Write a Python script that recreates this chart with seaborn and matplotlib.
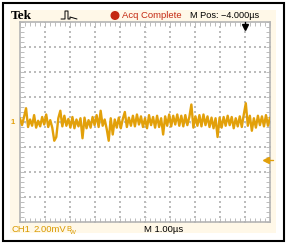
import numpy as np
import matplotlib
matplotlib.use("Agg")
import matplotlib.pyplot as plt
from matplotlib.patches import Rectangle, Circle
import seaborn as sns

sns.set_style("white")
plt.rcParams['font.family'] = ['Liberation Sans', 'DejaVu Sans']

ch1_mv = [0.3, -0.25, 0.4, 1.1, -0.4, 0.2, -0.3, 0.55, -0.45, 0.1,
          -0.35, 0.4, -0.2, 0.6, -0.4, 0.15, -0.45, -1.5, -1.2, 0.3,
          0.9, -0.35, 0.5, -0.3, 0.25, -0.45, 0.4, -0.5, 0.2, -0.35,
          0.3, -1.3, 0.35, -0.5, 0.15, -0.45, 0.4, -0.25, 0.55, -0.4,
          0.9, -0.3, 0.2, -0.55, -1.5, 0.3, -1.0, 0.2, -0.45, 0.35,
          -0.5, 0.25, 0.8, -0.4, 0.35, -0.3, 0.5, -0.35, 0.6, -0.2,
          0.45, -0.4, 0.3, -0.5, 0.55, -0.25, 0.4, -0.45, 0.5, -0.4,
          0.3, -1.0, 0.45, -0.3, 0.6, -0.35, 0.5, -0.2, 0.6, -0.3,
          0.5, -0.35, 0.55, -0.25, 0.4, 1.4, -0.45, 0.45, -0.3, 0.55,
          -0.35, 0.6, -0.25, 0.45, -0.4, 0.35, -0.5, 0.3, -1.2, 0.35,
          -0.45, 0.4, -0.3, 0.5, -0.25, 0.4, -0.5, 0.3, -0.35, 0.45,
          -0.4, 0.6, 1.5, -0.3, 0.5, -0.7, 0.3, -0.45, 0.5, -0.25,
          0.45, -0.35, 0.55, -0.3, 0.35]
tempo_us = np.linspace(0, 10, len(ch1_mv))

volts_div = 2.0      # mV/div
trigger_mv = -3.0    # nivel do trigger
trigger_pos_us = 9.0

laranja = '#E2A00A'
cinza = '#bcbcbc'
creme = '#FFF8E8'

W, H = 286, 243
fig = plt.figure(figsize=(W / 100, H / 100), dpi=100)

# camada de fundo em pixels
deco = fig.add_axes([0, 0, 1, 1], zorder=0)
deco.set_xlim(0, W)
deco.set_ylim(H, 0)
deco.axis('off')
deco.add_patch(Rectangle((3, 3), 281, 238, fill=False, ec='black', lw=1.5))
deco.add_patch(Rectangle((10, 10), 266, 223, fc=creme, ec='none'))

deco.text(11, 16, 'Tek', family=['Liberation Serif', 'DejaVu Serif'], weight='bold',
          fontsize=9.5, va='center', ha='left', color='black')
# icone do pulso
deco.plot([61, 65, 65, 68, 68, 70, 70, 77], [19, 19, 11, 11, 19, 19, 17, 19], color='black', lw=0.7)
deco.add_patch(Circle((115, 15.5), 3.8, color='#C42A12'))
deco.text(122, 15.5, 'Acq Complete', color='#C42A12', fontsize=6.8, va='center', ha='left')
deco.text(190, 15.5, 'M Pos: \u22124.000\u00b5s', color='black', fontsize=6.6, va='center', ha='left')

deco.text(11, 229, 'CH1', color='#D99A00', fontsize=6.8, va='center', ha='left')
deco.text(33, 229, '2.00mV', color='#D99A00', fontsize=6.8, va='center', ha='left')
deco.text(66, 229, 'B', color='#D99A00', fontsize=5.5, va='center', ha='left')
deco.text(70, 232, 'W', color='#D99A00', fontsize=4.5, va='center', ha='left')
deco.text(144, 229, 'M 1.00\u00b5s', color='black', fontsize=6.8, va='center', ha='left')

deco.text(13, 122, '1', color=laranja, fontsize=5.5, va='center', ha='center', weight='bold')

# graticula
ax = fig.add_axes([20 / W, (H - 222) / H, 250 / W, 200 / H], zorder=1)
ax.set_facecolor('white')
ax.set_xlim(0, 10)
ax.set_ylim(-4 * volts_div, 4 * volts_div)

for xv in range(1, 10):
    ys = np.arange(-8, 8.01, 0.4)
    ax.scatter(np.full(len(ys), xv), ys, s=0.7, marker='s', color=cinza, linewidths=0, zorder=1)
for yv in np.arange(-6, 6.1, 2):
    xs = np.arange(0, 10.01, 0.2)
    ax.scatter(xs, np.full(len(xs), yv), s=0.7, marker='s', color=cinza, linewidths=0, zorder=1)
# marcas do eixo central
ys = np.arange(-8, 8.01, 0.4)
ax.scatter(np.full(len(ys), 5), ys, s=4, marker='_', color=cinza, linewidths=0.6, zorder=1)
xs = np.arange(0, 10.01, 0.2)
ax.scatter(xs, np.zeros(len(xs)), s=4, marker='|', color=cinza, linewidths=0.6, zorder=1)

ax.set_xticks(np.arange(0, 10.01, 1))
ax.set_xticks(np.arange(0, 10.01, 0.2), minor=True)
ax.set_yticks(np.arange(-8, 8.01, 2))
ax.set_yticks(np.arange(-8, 8.01, 0.4), minor=True)
ax.tick_params(which='both', direction='in', length=3, width=0.7, color=cinza,
               top=True, right=True, bottom=True, left=True,
               labelbottom=False, labelleft=False)
for s in ax.spines.values():
    s.set_color('#b4b4b4')
    s.set_linewidth(1.2)

sns.lineplot(x=tempo_us, y=ch1_mv, ax=ax, color=laranja, linewidth=1.7, zorder=3)
ax.set_xlabel('')
ax.set_ylabel('')

# marcador do trigger (posicao e nivel)
ax.plot([trigger_pos_us], [7.6], marker='v', color='black', markersize=4.5, clip_on=False, zorder=4)
ax.plot([trigger_pos_us, trigger_pos_us], [7.7, 8.0], color='black', lw=1, clip_on=False, zorder=4)
ax.plot([9.85], [trigger_mv], marker='<', color=laranja, markersize=4.5, clip_on=False, zorder=4)
ax.plot([9.85, 10.1], [trigger_mv, trigger_mv], color=laranja, lw=1, clip_on=False, zorder=4)

fig.savefig('out.png', dpi=100)
